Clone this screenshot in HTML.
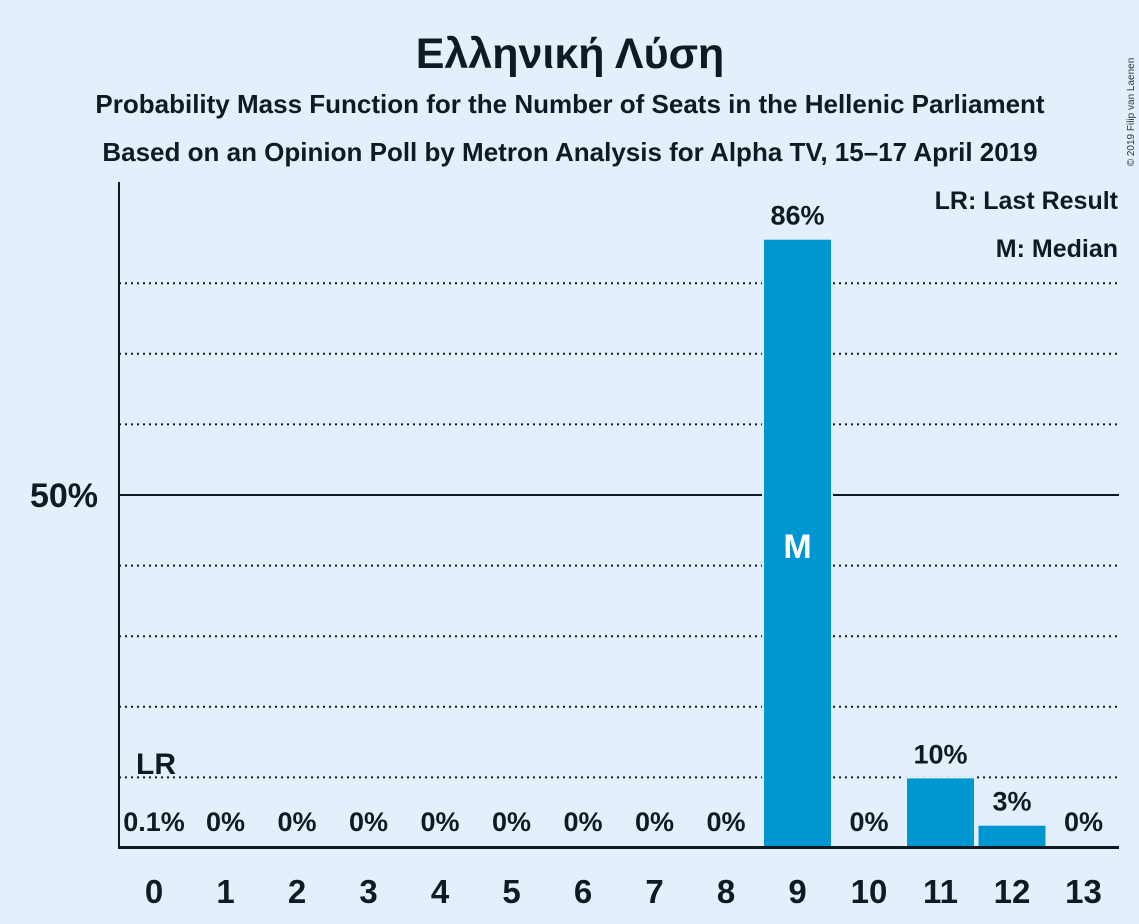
<!DOCTYPE html>
<html><head><meta charset="utf-8"><style>
body{margin:0;background:#e3f0fc;}
svg{display:block;font-family:"Liberation Sans",sans-serif;font-weight:bold;}
</style></head><body>
<svg id="chart" width="1139" height="924">
<rect width="1139" height="924" fill="#e3f0fc"/>
<text x="570" y="68" text-anchor="middle" font-size="43" fill="#111a22">Ελληνική Λύση</text>
<text x="570" y="113" text-anchor="middle" font-size="26" fill="#111a22">Probability Mass Function for the Number of Seats in the Hellenic Parliament</text>
<text x="570" y="161" text-anchor="middle" font-size="26" fill="#111a22">Based on an Opinion Poll by Metron Analysis for Alpha TV, 15–17 April 2019</text>
<text x="1134" y="112" font-size="10" font-weight="normal" fill="#333" transform="rotate(-90 1134 112)" text-anchor="middle">© 2019 Filip van Laenen</text>
<text x="1118" y="209" text-anchor="end" font-size="25" fill="#111a22">LR: Last Result</text>
<text x="1118" y="257" text-anchor="end" font-size="25" fill="#111a22">M: Median</text>
<g id="grid"></g>
<g id="bars"></g>
<line x1="119" y1="182" x2="119" y2="848" stroke="#111a22" stroke-width="2"/>
<line x1="118" y1="847.5" x2="1119" y2="847.5" stroke="#111a22" stroke-width="3"/>
<text x="98" y="507" text-anchor="end" font-size="34" fill="#111a22">50%</text>
<text x="156" y="774" text-anchor="middle" font-size="30" fill="#111a22">LR</text>
</svg>
<script>
const categories=[0,1,2,3,4,5,6,7,8,9,10,11,12,13];
const values=[0.1,0,0,0,0,0,0,0,0,86.3,0,10,3.3,0];
const labels=["0.1%","0%","0%","0%","0%","0%","0%","0%","0%","86%","0%","10%","3%","0%"];
const gridTicks=[10,20,30,40,60,70,80];
const medianIndex=9;
const NS="http://www.w3.org/2000/svg";
const y=v=>848-v*7.06;
const x=i=>154+i*71.5;
const grid=document.getElementById('grid'),bars=document.getElementById('bars'),svg=document.getElementById('chart');
gridTicks.forEach(t=>{const l=document.createElementNS(NS,'line');
l.setAttribute('x1',119);l.setAttribute('x2',1119);l.setAttribute('y1',y(t));l.setAttribute('y2',y(t));
l.setAttribute('stroke','#111a22');l.setAttribute('stroke-width',2);l.setAttribute('stroke-dasharray','2,4');


grid.appendChild(l);});
const l50=document.createElementNS(NS,'line');
l50.setAttribute('x1',119);l50.setAttribute('x2',1119);l50.setAttribute('y1',y(50));l50.setAttribute('y2',y(50));
l50.setAttribute('stroke','#111a22');l50.setAttribute('stroke-width',2);


grid.appendChild(l50);
categories.forEach((c,i)=>{
 const v=values[i];
 if(v>0.5){const r=document.createElementNS(NS,'rect');
 r.setAttribute('x',x(i)-34.5);r.setAttribute('width',69);r.setAttribute('y',y(v));r.setAttribute('height',848-y(v));
 r.setAttribute('fill','#0096d2');r.setAttribute('stroke','#e3f0fc');r.setAttribute('stroke-width',2);
 
 
 bars.appendChild(r);}
 const t=document.createElementNS(NS,'text');
 t.setAttribute('x',x(i));t.setAttribute('text-anchor','middle');t.setAttribute('font-size',27);t.setAttribute('fill','#111a22');
 t.setAttribute('y',v>1?y(v)-14:831);t.textContent=labels[i];
 
 
 svg.appendChild(t);
 const xt=document.createElementNS(NS,'text');
 xt.setAttribute('x',x(i));xt.setAttribute('y',903);xt.setAttribute('text-anchor','middle');xt.setAttribute('font-size',33);xt.setAttribute('fill','#111a22');
 xt.textContent=c;
 
 
 svg.appendChild(xt);
});
const m=document.createElementNS(NS,'text');
m.setAttribute('x',x(medianIndex));m.setAttribute('y',558);m.setAttribute('text-anchor','middle');m.setAttribute('font-size',34);m.setAttribute('fill','#ffffff');m.textContent='M';


svg.appendChild(m);
</script>
</body></html>
